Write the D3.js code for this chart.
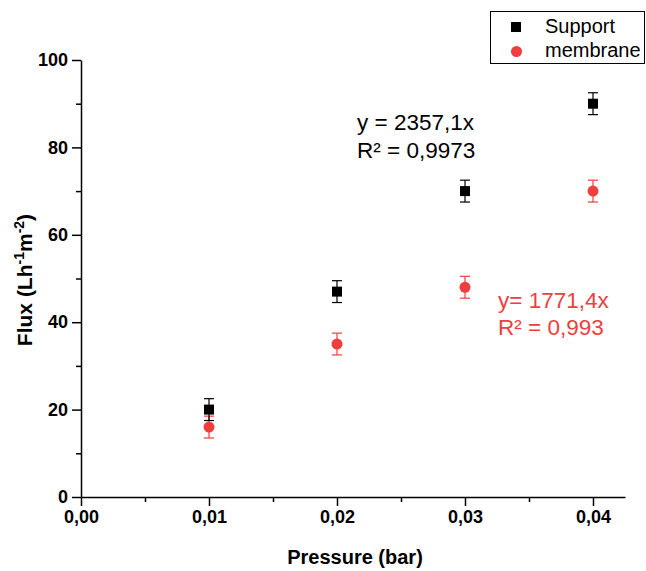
<!DOCTYPE html>
<html><head><meta charset="utf-8">
<script src="https://cdn.jsdelivr.net/npm/d3@7/dist/d3.min.js"></script>
<style>body{margin:0;background:#fff}text{font-family:Arial,"Liberation Sans",sans-serif}</style>
</head><body><svg id="c" width="646" height="571"></svg>
<script>
const pressure = [0.01, 0.02, 0.03, 0.04];
const support = [20, 47, 70, 90];
const supportErr = [2.5, 2.5, 2.5, 2.5];
const membrane = [16, 35, 48, 70];
const membraneErr = [2.5, 2.5, 2.5, 2.5];
const xTicks = [0, 0.01, 0.02, 0.03, 0.04];
const yTicks = [0, 20, 40, 60, 80, 100];
const RED = "#ee3e3e";

const svg = d3.select("#c");
const x = d3.scaleLinear().domain([0, 0.0425]).range([81, 625]);
const y = d3.scaleLinear().domain([0, 100]).range([497, 60]);
const fmt = d => d3.format(".2f")(d).replace(".", ",");

// minor ticks
svg.append("g").attr("transform","translate(0,497)")
  .call(d3.axisBottom(x).tickValues([0.005,0.015,0.025,0.035]).tickSize(5).tickFormat(""))
  .call(g=>g.select(".domain").remove())
  .call(g=>g.selectAll("line").attr("stroke-width",1.5));
svg.append("g").attr("transform","translate(81,0)")
  .call(d3.axisLeft(y).tickValues([10,30,50,70,90]).tickSize(5).tickFormat(""))
  .call(g=>g.select(".domain").remove())
  .call(g=>g.selectAll("line").attr("stroke-width",1.5));

const xa = svg.append("g").attr("transform","translate(0,497)")
  .call(d3.axisBottom(x).tickValues(xTicks).tickSize(9).tickPadding(4).tickSizeOuter(0).tickFormat(fmt));
const ya = svg.append("g").attr("transform","translate(81,0)")
  .call(d3.axisLeft(y).tickValues(yTicks).tickSize(9).tickPadding(4).tickSizeOuter(0));
[xa, ya].forEach(a => {
  a.selectAll("path,line").attr("stroke","#000").attr("stroke-width",1.5);
  a.selectAll("text").attr("font-size",18).attr("font-weight","bold").attr("fill","#000");
});

svg.append("text").attr("x",355).attr("y",564).attr("text-anchor","middle")
  .attr("font-size",20).attr("font-weight","bold").text("Pressure (bar)");
const yt = svg.append("text").attr("transform","translate(32,280) rotate(-90)")
  .attr("text-anchor","middle").attr("font-size",21).attr("font-weight","bold");
yt.append("tspan").text("Flux (Lh");
yt.append("tspan").attr("font-size",14).attr("dy",-8).text("-1");
yt.append("tspan").attr("dy",8).text("m");
yt.append("tspan").attr("font-size",14).attr("dy",-8).text("-2");
yt.append("tspan").attr("dy",8).text(")");

function errBars(vals, errs, color) {
  const g = svg.append("g").attr("stroke",color).attr("stroke-width",1.2);
  pressure.forEach((p,i)=>{
    const cx = x(p), y1 = y(vals[i]+errs[i]), y2 = y(vals[i]-errs[i]);
    g.append("line").attr("x1",cx).attr("x2",cx).attr("y1",y1).attr("y2",y2);
    g.append("line").attr("x1",cx-5).attr("x2",cx+5).attr("y1",y1).attr("y2",y1);
    g.append("line").attr("x1",cx-5).attr("x2",cx+5).attr("y1",y2).attr("y2",y2);
  });
}
errBars(membrane, membraneErr, RED);
errBars(support, supportErr, "#000");

svg.append("g").selectAll("circle").data(pressure).join("circle")
  .attr("cx",d=>x(d)).attr("cy",(d,i)=>y(membrane[i])).attr("r",5.5).attr("fill",RED);
svg.append("g").selectAll("rect").data(pressure).join("rect")
  .attr("x",d=>x(d)-5).attr("y",(d,i)=>y(support[i])-5).attr("width",10).attr("height",10).attr("fill","#000");

// annotations
svg.append("text").attr("x",357).attr("y",130).attr("font-size",22.5).text("y = 2357,1x");
svg.append("text").attr("x",357).attr("y",158).attr("font-size",22.5).text("R² = 0,9973");
svg.append("text").attr("x",498).attr("y",308).attr("font-size",22.5).attr("fill",RED).text("y= 1771,4x");
svg.append("text").attr("x",498).attr("y",335).attr("font-size",22.5).attr("fill",RED).text("R² = 0,993");

// legend
const lg = svg.append("g");
lg.append("rect").attr("x",490.5).attr("y",11.5).attr("width",154).attr("height",52)
  .attr("fill","#fff").attr("stroke","#000").attr("stroke-width",1);
lg.append("rect").attr("x",511).attr("y",22).attr("width",10).attr("height",10).attr("fill","#000");
lg.append("circle").attr("cx",516.5).attr("cy",51.5).attr("r",5.5).attr("fill",RED);
lg.append("text").attr("x",545).attr("y",33).attr("font-size",20).text("Support");
lg.append("text").attr("x",545).attr("y",57).attr("font-size",20).text("membrane");
</script></body></html>
